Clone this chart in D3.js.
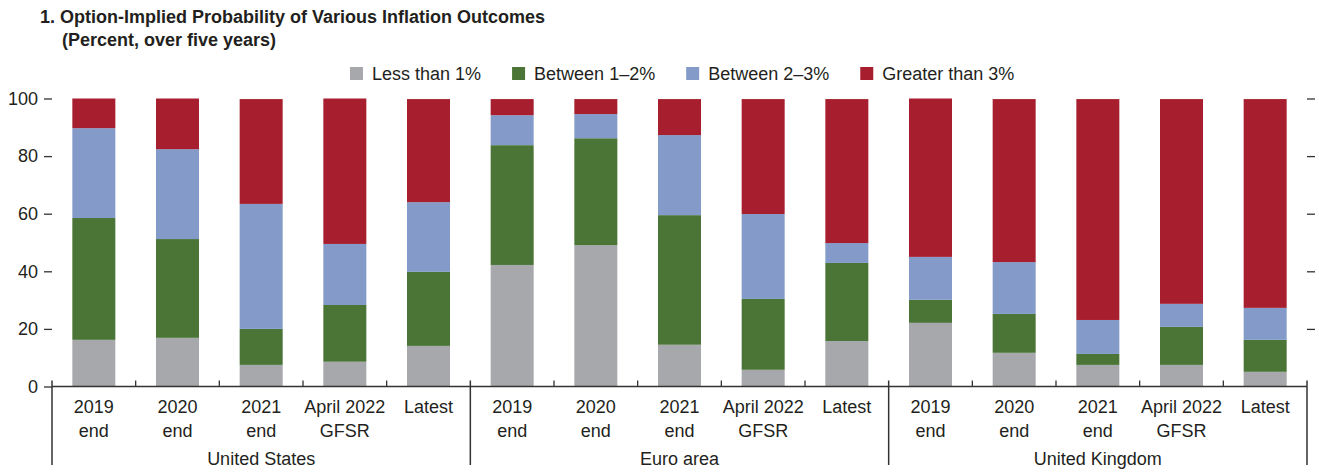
<!DOCTYPE html>
<html lang="en">
<head>
  <meta charset="UTF-8">
  <title>Option-Implied Probability of Various Inflation Outcomes</title>
  <style>
    body { margin: 0; background: #fff; }
    text { font-family: "Liberation Sans", Arial, sans-serif; fill: #231f20; }
  </style>
</head>
<body>
  <svg id="svg" width="1319" height="472"></svg>
  <script src="https://cdn.jsdelivr.net/npm/d3@7"></script>
  <script>
    // Data (percent, each bar sums to ~100)
    const regions = ['United States', 'Euro area', 'United Kingdom']
    const periods = [['2019', 'end'], ['2020', 'end'], ['2021', 'end'], ['April 2022', 'GFSR'], ['Latest', '']]
    const seriesNames = ['Less than 1%', 'Between 1–2%', 'Between 2–3%', 'Greater than 3%']
    const seriesColors = ['#a7a8ab', '#4a7537', '#849bca', '#a71f2f']

    // US x5, Euro area x5, UK x5
    const lessThan1 = [16.2, 16.9, 7.5, 8.6, 14.1, 42.2, 49.1, 14.5, 5.8, 15.8, 22.1, 11.7, 7.5, 7.5, 5.1]
    const between1to2 = [42.3, 34.3, 12.5, 19.7, 25.7, 41.6, 37.1, 45.0, 24.6, 27.1, 8.0, 13.5, 3.8, 13.2, 11.1]
    const between2to3 = [31.2, 31.2, 43.4, 21.2, 24.2, 10.4, 8.4, 27.8, 29.5, 6.9, 14.9, 18.0, 11.8, 8.0, 11.1]
    const greaterThan3 = [10.3, 17.6, 36.4, 50.5, 35.8, 5.6, 5.2, 12.5, 39.9, 50.0, 55.0, 56.6, 76.7, 71.1, 72.5]

    const yTicks = [0, 20, 40, 60, 80, 100]

    const svg = d3.select('#svg')
    const plotLeft = 52, plotRight = 1307, plotTop = 98.5, plotBottom = 386.5
    const ink = '#231f20', axisInk = '#333'

    // one row per bar
    const rows = []
    regions.forEach((r, gi) => periods.forEach((p, pi) => {
      const i = gi * periods.length + pi
      rows.push({
        key: r + '|' + pi, region: r, period: p,
        s0: lessThan1[i], s1: between1to2[i], s2: between2to3[i], s3: greaterThan3[i]
      })
    }))

    const x = d3.scaleBand()
      .domain(rows.map(d => d.key))
      .range([plotLeft, plotRight])
      .paddingInner(0.486)
      .paddingOuter(0.243)
    const step = x.step()

    const y = d3.scaleLinear().domain([0, 100]).range([plotBottom, plotTop])

    const stack = d3.stack().keys(['s0', 's1', 's2', 's3'])(rows)

    // Title
    svg.append('text').attr('x', 40).attr('y', 23)
      .attr('font-size', 18).attr('font-weight', 'bold')
      .text('1. Option-Implied Probability of Various Inflation Outcomes')
    svg.append('text').attr('x', 62).attr('y', 46)
      .attr('font-size', 18).attr('font-weight', 'bold')
      .text('(Percent, over five years)')

    // Legend - laid out left to right using text widths
    let lx = 350
    seriesNames.forEach((name, i) => {
      const g = svg.append('g').attr('transform', `translate(${lx}, 0)`)
      g.append('rect').attr('x', 0).attr('y', 67).attr('width', 13).attr('height', 13)
        .attr('fill', seriesColors[i])
      const t = g.append('text').attr('x', 22).attr('y', 80).attr('font-size', 18).text(name)
      lx += 22 + t.node().getComputedTextLength() + 31
    })

    // Bars
    svg.append('g')
      .selectAll('g')
      .data(stack)
      .join('g')
      .attr('fill', (d, i) => seriesColors[i])
      .selectAll('rect')
      .data(d => d)
      .join('rect')
      .attr('x', d => x(d.data.key))
      .attr('width', x.bandwidth())
      .attr('y', d => y(d[1]))
      .attr('height', d => y(d[0]) - y(d[1]))

    // Left y axis: ticks + labels, no domain line
    const yAxis = svg.append('g')
      .attr('transform', `translate(${plotLeft}, 0)`)
      .call(d3.axisLeft(y).tickValues(yTicks).tickSize(8).tickPadding(6))
    yAxis.select('.domain').remove()
    yAxis.selectAll('line').attr('stroke', axisInk).attr('stroke-width', 1.3)
    yAxis.selectAll('text').attr('font-size', 18).attr('fill', ink)
      .attr('font-family', '"Liberation Sans", Arial, sans-serif')

    // Right y axis: ticks only
    const yAxisR = svg.append('g')
      .attr('transform', `translate(${plotRight}, 0)`)
      .call(d3.axisRight(y).tickValues(yTicks.slice(1)).tickSize(8).tickFormat(''))
    yAxisR.select('.domain').remove()
    yAxisR.selectAll('line').attr('stroke', axisInk).attr('stroke-width', 1.3)

    // x axis baseline
    svg.append('line')
      .attr('x1', plotLeft).attr('x2', plotRight)
      .attr('y1', y(0)).attr('y2', y(0))
      .attr('stroke', axisInk).attr('stroke-width', 1.5)

    // band boundary ticks; group boundaries run down through the labels
    d3.range(rows.length + 1).forEach(i => {
      const bx = plotLeft + i * step
      const isGroup = i % periods.length === 0
      svg.append('line')
        .attr('x1', bx).attr('x2', bx)
        .attr('y1', y(0) - 6).attr('y2', isGroup ? 465 : y(0))
        .attr('stroke', axisInk).attr('stroke-width', isGroup ? 1.5 : 1.3)
    })

    // period labels (two lines)
    const lab = svg.append('g').attr('font-size', 18).attr('text-anchor', 'middle')
    rows.forEach(d => {
      const cx = x(d.key) + x.bandwidth() / 2
      lab.append('text').attr('x', cx).attr('y', 413).text(d.period[0])
      if (d.period[1]) lab.append('text').attr('x', cx).attr('y', 437).text(d.period[1])
    })

    // region labels centred under each group
    regions.forEach((r, gi) => {
      const cx = plotLeft + (gi + 0.5) * periods.length * step
      lab.append('text').attr('x', cx).attr('y', 465).text(r)
    })
  </script>
</body>
</html>
